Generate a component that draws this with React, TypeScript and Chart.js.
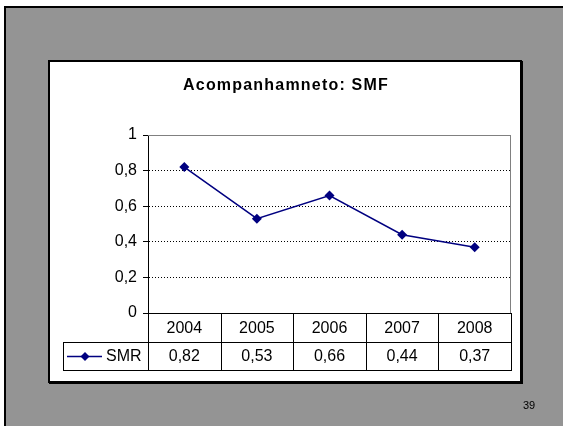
import React, { useEffect, useRef } from "react";
import { Chart, registerables } from "chart.js";

Chart.register(...registerables);

const chartTitle = "Acompanhamneto: SMF";
const categories = ["2004", "2005", "2006", "2007", "2008"];
const seriesName = "SMR";
const smrValues = [0.82, 0.53, 0.66, 0.44, 0.37];
const yTickValues = [0, 0.2, 0.4, 0.6, 0.8, 1];
const pageNumber = "39";

const fmt = (v: number, digits: number) =>
  Number.isInteger(v) ? String(v) : v.toFixed(digits).replace(".", ",");

const FONT = '"Liberation Sans", Arial, sans-serif';
const NAVY = "#000080";

const decorPlugin = {
  id: "decor",
  beforeDraw(chart: any) {
    const ctx = chart.ctx as CanvasRenderingContext2D;
    ctx.save();
    ctx.fillStyle = "#ffffff";
    ctx.fillRect(0, 0, chart.width, chart.height);
    // gray page
    ctx.fillStyle = "#949494";
    ctx.fillRect(5, 7, chart.width - 5, chart.height - 7);
    ctx.fillStyle = "#000000";
    ctx.fillRect(4, 6, 2, chart.height - 6);
    ctx.fillRect(4, 6, chart.width - 4, 2);
    // white chart box with thin shadow
    ctx.fillStyle = "#000000";
    ctx.fillRect(49, 61, 474, 323);
    ctx.fillStyle = "#ffffff";
    ctx.fillRect(48, 60, 474, 323);
    ctx.strokeStyle = "#000000";
    ctx.lineWidth = 2;
    ctx.strokeRect(49, 61, 472, 321);
    ctx.restore();
  },
  afterDraw(chart: any) {
    const ctx = chart.ctx as CanvasRenderingContext2D;
    const area = chart.chartArea;
    const xs = chart.scales.x;
    const n = categories.length;
    const colW = (area.right - area.left) / n;
    const rowH = 28.5;
    const top = area.bottom;
    const mid = top + rowH;
    const bot = top + 2 * rowH;
    const legendLeft = 63;

    ctx.save();
    // plot area border (top/right) gray
    ctx.strokeStyle = "#808080";
    ctx.lineWidth = 1;
    ctx.beginPath();
    ctx.moveTo(area.left, Math.round(area.top) + 0.5);
    ctx.lineTo(area.right, Math.round(area.top) + 0.5);
    ctx.moveTo(Math.round(area.right) - 0.5, area.top);
    ctx.lineTo(Math.round(area.right) - 0.5, area.bottom);
    ctx.stroke();

    // data table
    ctx.strokeStyle = "#000000";
    ctx.lineWidth = 1;
    ctx.beginPath();
    ctx.moveTo(area.left, Math.round(top) + 0.5);
    ctx.lineTo(area.right, Math.round(top) + 0.5);
    ctx.moveTo(legendLeft, Math.round(mid) + 0.5);
    ctx.lineTo(area.right, Math.round(mid) + 0.5);
    ctx.moveTo(legendLeft, Math.round(bot) + 0.5);
    ctx.lineTo(area.right, Math.round(bot) + 0.5);
    ctx.moveTo(legendLeft + 0.5, Math.round(mid));
    ctx.lineTo(legendLeft + 0.5, Math.round(bot) + 1);
    for (let i = 0; i <= n; i++) {
      const x = Math.round(area.left + i * colW) + 0.5;
      ctx.moveTo(x, Math.round(top));
      ctx.lineTo(x, Math.round(bot) + 1);
    }
    ctx.stroke();

    ctx.fillStyle = "#000000";
    ctx.font = `16px ${FONT}`;
    ctx.textAlign = "center";
    ctx.textBaseline = "middle";
    categories.forEach((c, i) => {
      const x = xs.getPixelForValue(i);
      ctx.fillText(c, x, top + rowH / 2 + 1);
      ctx.fillText(fmt(smrValues[i], 2), x, mid + rowH / 2 + 1);
    });

    // legend key
    const ly = Math.round(mid + rowH / 2) + 0.5;
    ctx.strokeStyle = NAVY;
    ctx.lineWidth = 1.5;
    ctx.beginPath();
    ctx.moveTo(67, ly);
    ctx.lineTo(102, ly);
    ctx.stroke();
    ctx.fillStyle = NAVY;
    ctx.beginPath();
    ctx.moveTo(85, ly - 4.5);
    ctx.lineTo(89.5, ly);
    ctx.lineTo(85, ly + 4.5);
    ctx.lineTo(80.5, ly);
    ctx.closePath();
    ctx.fill();
    ctx.fillStyle = "#000000";
    ctx.textAlign = "left";
    ctx.font = `16px ${FONT}`;
    ctx.fillText(seriesName, 106, mid + rowH / 2 + 1);

    // title
    ctx.font = `bold 16px ${FONT}`;
    (ctx as any).letterSpacing = "1.2px";
    ctx.textAlign = "center";
    ctx.fillText(chartTitle, 286, 86);
    (ctx as any).letterSpacing = "0px";

    // page number
    ctx.font = `11px ${FONT}`;
    ctx.textAlign = "left";
    ctx.fillText(pageNumber, 523, 406);
    ctx.restore();
  },
};

export default function App() {
  const ref = useRef<HTMLCanvasElement | null>(null);
  useEffect(() => {
    document.body.style.margin = "0";
    const canvas = ref.current!;
    const chart = new Chart(canvas, {
      type: "line",
      data: {
        labels: categories,
        datasets: [
          {
            label: seriesName,
            data: smrValues,
            borderColor: NAVY,
            backgroundColor: NAVY,
            borderWidth: 1.5,
            pointStyle: "rectRot",
            pointRadius: 5,
            pointBorderWidth: 0,
            pointBackgroundColor: NAVY,
            tension: 0,
          },
        ],
      },
      options: {
        responsive: false,
        animation: false,
        devicePixelRatio: 1,
        layout: { padding: { left: 98, right: 52, top: 135, bottom: 113 } },
        plugins: {
          legend: { display: false },
          title: { display: false },
          tooltip: { enabled: false },
        },
        scales: {
          x: {
            type: "category",
            offset: true,
            display: false,
          },
          y: {
            min: 0,
            max: 1,
            afterFit: (scale: any) => {
              scale.width = 50;
            },
            afterBuildTicks: (scale: any) => {
              scale.ticks = yTickValues.map((v) => ({ value: v }));
            },
            ticks: {
              color: "#000000",
              padding: 6,
              font: { family: FONT, size: 16 },
              callback: (v: any) => fmt(Number(v), 1),
            },
            grid: {
              color: (c: any) => (c.tick && c.tick.value === 1 ? "rgba(0,0,0,0)" : "#000000"),
              lineWidth: 1,
              drawTicks: true,
              tickLength: 5,
              tickColor: "#000000",
              tickBorderDash: [],
            },
            border: {
              display: true,
              color: "#000000",
              width: 1,
              dash: [1, 2],
            },
          },
        },
      },
      plugins: [decorPlugin],
    } as any);
    return () => chart.destroy();
  }, []);
  return (
    <div style={{ position: "fixed", left: 0, top: 0, width: 563, height: 426 }}>
      <canvas ref={ref} width={563} height={426} style={{ width: 563, height: 426, display: "block" }} />
    </div>
  );
}
